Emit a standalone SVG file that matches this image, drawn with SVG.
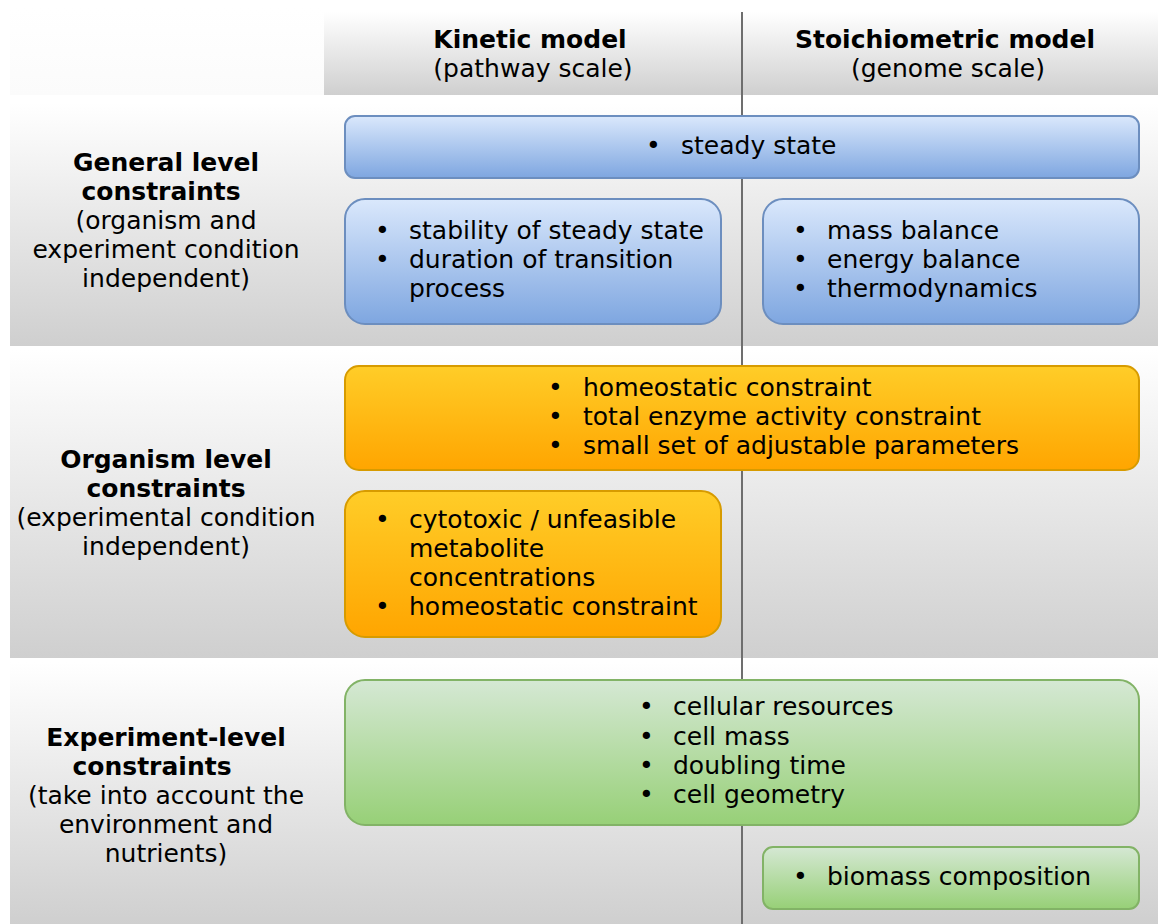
<svg xmlns="http://www.w3.org/2000/svg" width="1158" height="924" viewBox="0 0 1158 924">
  <defs>
    <linearGradient id="band" x1="0" y1="0" x2="0" y2="1">
      <stop offset="0" stop-color="#ffffff"/>
      <stop offset="1" stop-color="#cfcfcf"/>
    </linearGradient>
    <linearGradient id="corner" x1="0" y1="0" x2="0" y2="1">
      <stop offset="0" stop-color="#ffffff"/>
      <stop offset="1" stop-color="#fbfbfb"/>
    </linearGradient>
    <linearGradient id="blue" x1="0" y1="0" x2="0" y2="1">
      <stop offset="0" stop-color="#dae8fc"/>
      <stop offset="1" stop-color="#7ea6e0"/>
    </linearGradient>
    <linearGradient id="orange" x1="0" y1="0" x2="0" y2="1">
      <stop offset="0" stop-color="#ffcd28"/>
      <stop offset="1" stop-color="#ffa500"/>
    </linearGradient>
    <linearGradient id="green" x1="0" y1="0" x2="0" y2="1">
      <stop offset="0" stop-color="#d5e8d4"/>
      <stop offset="1" stop-color="#97d077"/>
    </linearGradient>
  </defs>
  <style>
    text { font-family: "DejaVu Sans", Verdana, sans-serif; font-size: 25px; fill: #000; }
    .b { font-weight: bold; }
    .c { text-anchor: middle; }
    .blue { fill: url(#blue); stroke: #6c8ebf; stroke-width: 2; }
    .orange { fill: url(#orange); stroke: #d79b00; stroke-width: 2; }
    .green { fill: url(#green); stroke: #82b366; stroke-width: 2; }
    .divider { stroke: #6e6e6e; stroke-width: 2; fill: none; }
  </style>

  <rect width="1158" height="924" fill="#ffffff"/>

  <!-- background bands -->
  <g id="bands">
    <rect x="10" y="8" width="314" height="87" fill="url(#corner)"/>
    <rect x="324" y="12" width="834" height="83" fill="url(#band)"/>
    <rect x="10" y="103" width="1148" height="243" fill="url(#band)"/>
    <rect x="10" y="350" width="1148" height="308" fill="url(#band)"/>
    <rect x="10" y="662" width="1148" height="262" fill="url(#band)"/>
  </g>

  <!-- column divider -->
  <g id="connectors">
    <line class="divider" x1="742" y1="12" x2="742" y2="924"/>
  </g>

  <!-- column headers -->
  <g id="header-kinetic">
    <text class="b c" x="530" y="48">Kinetic model</text>
    <text class="c" x="533" y="77">(pathway scale)</text>
  </g>
  <g id="header-stoich">
    <text class="b c" x="945" y="48">Stoichiometric model</text>
    <text class="c" x="948" y="77">(genome scale)</text>
  </g>

  <!-- row labels -->
  <g id="label-general">
    <text class="b c" x="166" y="171">General level</text>
    <text class="b c" x="161" y="200">constraints</text>
    <text class="c" x="166" y="229">(organism and</text>
    <text class="c" x="166" y="258">experiment condition</text>
    <text class="c" x="166" y="287">independent)</text>
  </g>
  <g id="label-organism">
    <text class="b c" x="166" y="468">Organism level</text>
    <text class="b c" x="166" y="497">constraints</text>
    <text class="c" x="166" y="526">(experimental condition</text>
    <text class="c" x="166" y="555">independent)</text>
  </g>
  <g id="label-experiment">
    <text class="b c" x="166" y="746">Experiment-level</text>
    <text class="b c" x="152" y="775">constraints</text>
    <text class="c" x="166" y="804">(take into account the</text>
    <text class="c" x="166" y="833">environment and</text>
    <text class="c" x="166" y="862">nutrients)</text>
  </g>

  <!-- general level boxes -->
  <g id="node-steady-state">
    <rect class="blue" x="345" y="116" width="794" height="62" rx="10"/>
    <text x="646" y="154">•</text>
    <text x="681" y="154">steady state</text>
  </g>
  <g id="node-kinetic-general">
    <rect class="blue" x="345" y="199" width="376" height="125" rx="20"/>
    <text x="375" y="239">•</text>
    <text x="409" y="239">stability of steady state</text>
    <text x="375" y="268">•</text>
    <text x="409" y="268">duration of transition</text>
    <text x="409" y="297">process</text>
  </g>
  <g id="node-stoich-general">
    <rect class="blue" x="763" y="199" width="376" height="125" rx="20"/>
    <text x="793" y="239">•</text>
    <text x="827" y="239">mass balance</text>
    <text x="793" y="268">•</text>
    <text x="827" y="268">energy balance</text>
    <text x="793" y="297">•</text>
    <text x="827" y="297">thermodynamics</text>
  </g>

  <!-- organism level boxes -->
  <g id="node-organism-shared">
    <rect class="orange" x="345" y="366" width="794" height="104" rx="14"/>
    <text x="548" y="396">•</text>
    <text x="583" y="396">homeostatic constraint</text>
    <text x="548" y="425">•</text>
    <text x="583" y="425">total enzyme activity constraint</text>
    <text x="548" y="454">•</text>
    <text x="583" y="454">small set of adjustable parameters</text>
  </g>
  <g id="node-organism-kinetic">
    <rect class="orange" x="345" y="491" width="376" height="146" rx="20"/>
    <text x="375" y="528">•</text>
    <text x="409" y="528">cytotoxic / unfeasible</text>
    <text x="409" y="557">metabolite</text>
    <text x="409" y="586">concentrations</text>
    <text x="375" y="615">•</text>
    <text x="409" y="615">homeostatic constraint</text>
  </g>

  <!-- experiment level boxes -->
  <g id="node-experiment-shared">
    <rect class="green" x="345" y="680" width="794" height="145" rx="20"/>
    <text x="639" y="715">•</text>
    <text x="673" y="715">cellular resources</text>
    <text x="639" y="745">•</text>
    <text x="673" y="745">cell mass</text>
    <text x="639" y="774">•</text>
    <text x="673" y="774">doubling time</text>
    <text x="639" y="803">•</text>
    <text x="673" y="803">cell geometry</text>
  </g>
  <g id="node-biomass">
    <rect class="green" x="763" y="847" width="376" height="62" rx="10"/>
    <text x="793" y="885">•</text>
    <text x="827" y="885">biomass composition</text>
  </g>
</svg>
